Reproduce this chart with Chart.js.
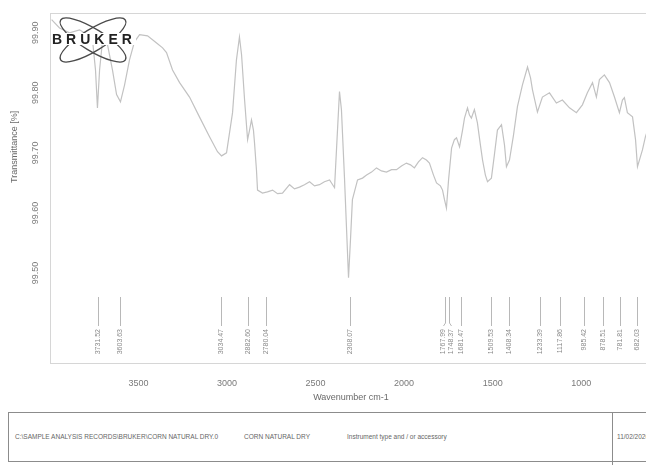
<!DOCTYPE html>
<html>
<head>
<meta charset="utf-8">
<script src="https://cdn.jsdelivr.net/npm/chart.js@4.4.1/dist/chart.umd.min.js"></script>
<style>
  html,body{margin:0;padding:0;background:#fff;overflow:hidden;width:646px;height:465px;}
  #wrap{position:absolute;left:0;top:0;width:680px;height:410px;}
  #box{position:absolute;left:8px;top:412px;width:660px;height:50px;border:1px solid #8c8c8c;box-sizing:border-box;}
  #div{position:absolute;left:612px;top:412px;width:1px;height:53px;background:#8c8c8c;}
  .t{position:absolute;top:433px;font:6.5px "Liberation Sans",Arial,sans-serif;color:#666;white-space:nowrap;}
</style>
</head>
<body>
<div id="wrap"><canvas id="ir" width="680" height="410"></canvas></div>
<div id="box"></div><div id="div"></div>
<div class="t" style="left:15px">C:\SAMPLE ANALYSIS RECORDS\BRUKER\CORN NATURAL DRY.0</div>
<div class="t" style="left:244px">CORN NATURAL DRY</div>
<div class="t" style="left:347px">Instrument type and / or accessory</div>
<div class="t" style="left:617px">11/02/2020</div>
<script>
// wavenumber (cm-1) and transmittance (%)
const wavenumbers=[3991,3946,3890,3833,3788,3760,3743,3732,3720,3703,3675,3647,3624,3602,3579,3551,3523,3494,3449,3398,3364,3342,3308,3268,3212,3156,3099,3054,3031,3003,2969,2947,2930,2918,2901,2884,2873,2862,2851,2845,2834,2828,2800,2772,2743,2715,2687,2647,2619,2591,2563,2534,2506,2478,2450,2421,2393,2382,2365,2354,2337,2325,2314,2303,2292,2263,2235,2212,2184,2156,2128,2100,2071,2043,2015,1987,1964,1942,1919,1896,1874,1857,1834,1817,1795,1783,1772,1761,1749,1732,1716,1704,1687,1670,1659,1642,1631,1620,1603,1586,1569,1557,1541,1529,1507,1490,1473,1450,1433,1422,1405,1382,1360,1332,1303,1286,1275,1247,1219,1179,1140,1106,1066,1027,993,965,936,914,897,869,840,812,784,767,756,739,710,693,682,654,637,614];
const transmittance=[99.922,99.908,99.900,99.905,99.897,99.888,99.838,99.775,99.838,99.888,99.880,99.838,99.797,99.785,99.813,99.855,99.885,99.897,99.895,99.883,99.875,99.867,99.838,99.817,99.793,99.760,99.727,99.702,99.695,99.700,99.767,99.855,99.893,99.863,99.788,99.722,99.738,99.755,99.738,99.717,99.672,99.638,99.633,99.635,99.638,99.632,99.633,99.647,99.640,99.643,99.647,99.652,99.645,99.647,99.652,99.655,99.642,99.705,99.802,99.772,99.660,99.572,99.492,99.555,99.622,99.655,99.658,99.663,99.668,99.675,99.670,99.668,99.672,99.672,99.678,99.683,99.680,99.675,99.685,99.692,99.688,99.683,99.663,99.650,99.645,99.638,99.622,99.608,99.655,99.708,99.722,99.725,99.710,99.738,99.758,99.775,99.763,99.758,99.772,99.750,99.713,99.688,99.663,99.652,99.658,99.697,99.738,99.747,99.713,99.677,99.688,99.730,99.777,99.813,99.843,99.825,99.805,99.768,99.793,99.800,99.783,99.788,99.775,99.767,99.780,99.800,99.817,99.793,99.822,99.830,99.817,99.793,99.767,99.788,99.792,99.767,99.760,99.722,99.677,99.705,99.727,99.747];
const peakLabels=[3731.52,3603.63,3034.47,2882.60,2780.04,2308.07,1767.99,1748.37,1681.47,1509.53,1408.34,1233.39,1117.86,985.42,878.51,781.81,682.03];
const xTicks=[3500,3000,2500,2000,1500,1000];
const yTicks=[99.50,99.60,99.70,99.80,99.90];

const points=wavenumbers.map((w,i)=>({x:w,y:transmittance[i]}));

const decor={
  id:'decor',
  afterDraw(chart){
    const {ctx,chartArea:a,scales:{x,y}}=chart;
    ctx.save();
    // frame
    ctx.strokeStyle='#d6d6d6'; ctx.lineWidth=1;
    ctx.strokeRect(a.left+0.5,a.top+0.5,a.right-a.left,a.bottom-a.top);
    // y tick labels, rotated
    ctx.fillStyle='#7a7a7a'; ctx.font='9px "Liberation Sans",Arial,sans-serif';
    ctx.textAlign='center'; ctx.textBaseline='middle';
    yTicks.forEach(v=>{ const py=y.getPixelForValue(v); ctx.save(); ctx.translate(a.left-14,py); ctx.rotate(-Math.PI/2); ctx.fillText(v.toFixed(2),0,0); ctx.restore(); });
    // y title
    ctx.save(); ctx.translate(15,y.getPixelForValue(99.71)); ctx.rotate(-Math.PI/2); ctx.fillStyle='#6a6a6a'; ctx.fillText('Transmittance [%]',0,0); ctx.restore();
    // peak markers: spread crowded labels, bend the line to them
    const xs=peakLabels.map(p=>x.getPixelForValue(p));
    const tx=xs.slice();
    for (let k=0;k<4;k++) for (let i=1;i<tx.length;i++){ if (tx[i]-tx[i-1]<7.5){ const m=(tx[i]+tx[i-1])/2; tx[i-1]=m-3.75; tx[i]=m+3.75; } }
    ctx.strokeStyle='#b8b8b8'; ctx.fillStyle='#8a8a8a'; ctx.font='7px "Liberation Sans",Arial,sans-serif';
    peakLabels.forEach((p,i)=>{
      const px=Math.round(xs[i])+0.5, qx=Math.round(tx[i])+0.5;
      ctx.beginPath(); ctx.moveTo(px,a.bottom-66); ctx.lineTo(px,a.bottom-40); ctx.lineTo(qx,a.bottom-37); ctx.stroke();
      ctx.save(); ctx.translate(qx,a.bottom-34); ctx.rotate(-Math.PI/2); ctx.textAlign='right'; ctx.fillText(p.toFixed(2),0,0); ctx.restore();
    });
    // logo
    const cx=a.left+43, cy=a.top+27;
    ctx.strokeStyle='#4a4a4a'; ctx.lineWidth=1.3;
    [0.55,-0.55].forEach(r=>{ ctx.beginPath(); ctx.ellipse(cx,cy,38,11,r,0,Math.PI*2); ctx.stroke(); });
    ctx.fillStyle='#fff'; ctx.fillRect(a.left+2,a.top+20,84,12);
    ctx.fillStyle='#222'; ctx.font='bold 14px "Liberation Sans",Arial,sans-serif';
    ctx.textAlign='left'; ctx.textBaseline='alphabetic';
    ctx.letterSpacing='4px';
    ctx.fillText('BRUKER',a.left+2,a.top+31);
    ctx.restore();
  }
};

new Chart(document.getElementById('ir'),{
  type:'line',
  data:{datasets:[{data:points,borderColor:'#c2c2c2',borderWidth:1.2,pointRadius:0,tension:0,fill:false}]},
  options:{
    responsive:false,animation:false,
    layout:{padding:{top:13,right:28,left:0,bottom:0}},
    plugins:{legend:{display:false},tooltip:{enabled:false}},
    scales:{
      x:{type:'linear',reverse:true,min:600,max:4000,
        afterBuildTicks:s=>{s.ticks=xTicks.map(v=>({value:v}));},
        afterFit:s=>{s.height=47;},
        grid:{display:false},border:{display:false},
        ticks:{color:'#7a7a7a',font:{size:9,family:'"Liberation Sans",Arial,sans-serif'},padding:7,maxRotation:0,callback:v=>String(v)},
        title:{display:true,text:'Wavenumber cm-1',color:'#6a6a6a',font:{size:9,family:'"Liberation Sans",Arial,sans-serif'},padding:{top:2,bottom:7}}},
      y:{min:99.35,max:99.933,
        afterBuildTicks:s=>{s.ticks=yTicks.map(v=>({value:v}));},
        afterFit:s=>{s.width=50;},
        grid:{display:false},border:{display:false},
        ticks:{display:false}}
    }
  },
  plugins:[decor]
});
</script>
</body>
</html>
